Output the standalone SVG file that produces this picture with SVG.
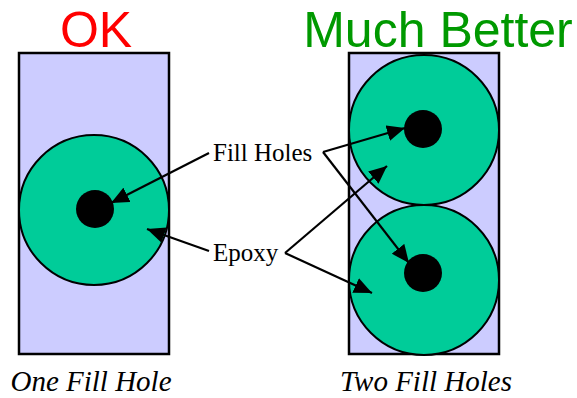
<svg xmlns="http://www.w3.org/2000/svg" width="577" height="398" viewBox="0 0 577 398">
<style>
.box{fill:#ccccff;stroke:#000;stroke-width:2.5}
.epoxy{fill:#00cc99;stroke:#000;stroke-width:2}
.hole{fill:#000}
.conn{fill:none;stroke:#000;stroke-width:2.2}
.lbl{font-family:"Liberation Serif",serif;font-size:25px;fill:#000}
.cap{font-family:"Liberation Serif",serif;font-style:italic;font-size:29px;fill:#000;text-anchor:middle}
.title{font-family:"Liberation Sans",Arial,sans-serif;font-size:50px;text-anchor:middle}
</style>
<defs>
<marker id="ah" markerUnits="userSpaceOnUse" markerWidth="19" markerHeight="16" refX="18" refY="8" orient="auto">
<path d="M0,0 L18,8 L0,16 Z" fill="#000"/>
</marker>
</defs>
<text class="title" x="96" y="47" fill="#ff0000">OK</text>
<text class="title" x="438" y="47" fill="#009900">Much Better</text>
<g id="left">
<rect class="box" x="19" y="53" width="150" height="301"/>
<circle class="epoxy" cx="94" cy="210" r="75"/>
<circle class="hole" cx="95" cy="209" r="19"/>
</g>
<g id="right">
<rect class="box" x="349" y="53" width="150" height="301"/>
<circle class="epoxy" cx="424" cy="130" r="75"/>
<circle class="epoxy" cx="424" cy="280" r="75"/>
<circle class="hole" cx="423" cy="129" r="19"/>
<circle class="hole" cx="423" cy="273" r="19"/>
</g>
<g id="connectors">
<line class="conn" x1="209" y1="153" x2="111" y2="203" marker-end="url(#ah)"/>
<line class="conn" x1="209" y1="251" x2="147" y2="229" marker-end="url(#ah)"/>
<line class="conn" x1="323" y1="152" x2="405" y2="128" marker-end="url(#ah)"/>
<line class="conn" x1="323" y1="152" x2="409" y2="263" marker-end="url(#ah)"/>
<line class="conn" x1="285" y1="253" x2="387" y2="166" marker-end="url(#ah)"/>
<line class="conn" x1="285" y1="253" x2="372" y2="293" marker-end="url(#ah)"/>
</g>
<g id="labels">
<text class="lbl" x="213" y="161">Fill Holes</text>
<text class="lbl" x="213" y="261">Epoxy</text>
<text class="cap" x="91" y="391">One Fill Hole</text>
<text class="cap" x="426" y="391">Two Fill Holes</text>
</g>
</svg>
